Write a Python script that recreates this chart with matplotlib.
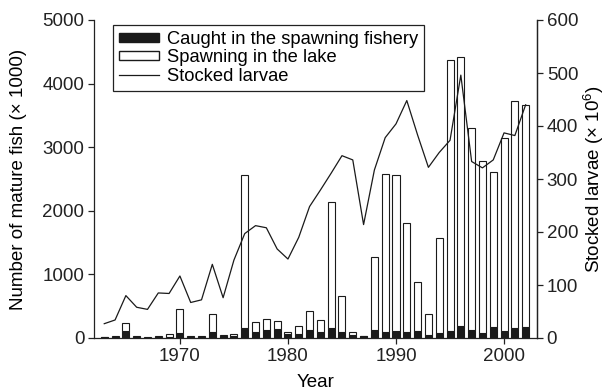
import matplotlib
matplotlib.use("Agg")
import matplotlib.pyplot as plt
from matplotlib.patches import Patch
from matplotlib.lines import Line2D

plt.rcParams['font.family'] = ['Liberation Sans', 'DejaVu Sans']
plt.rcParams['mathtext.fontset'] = 'custom'
plt.rcParams['mathtext.rm'] = 'Liberation Sans'
plt.rcParams['mathtext.it'] = 'Liberation Sans'

years = list(range(1963, 2003))
caught = [10, 12, 110, 20, 5, 8, 15, 84, 18, 10,
          100, 26, 30, 157, 100, 126, 141, 58, 68, 126,
          94, 157, 94, 47, 25, 126, 94, 115, 100, 110,
          42, 84, 115, 183, 126, 79, 168, 115, 152, 168]
spawning = [5, 18, 131, 10, 3, 17, 43, 367, 12, 15,
            272, 16, 28, 2406, 152, 168, 132, 36, 115, 293,
            184, 1986, 561, 42, 12, 1142, 2480, 2448, 1703, 776,
            335, 1483, 4256, 4230, 3181, 2704, 2437, 3025, 3579, 3495]
larvae = [27, 34, 80, 58, 54, 85, 84, 117, 67, 72,
          139, 76, 147, 197, 212, 208, 168, 149, 190, 248,
          279, 311, 344, 336, 214, 317, 378, 404, 448, 383,
          322, 350, 373, 496, 333, 321, 336, 387, 382, 440]

fs = 13.5
fig = plt.figure(figsize=(6.09, 3.92), dpi=100)
ax = fig.add_axes([94/609, 1-338/392, (537-94)/609, (338-20)/392])
ax2 = ax.twinx()

w = 0.65
ax.bar(years, caught, width=w, color='#1a1a1a', edgecolor='#1a1a1a', linewidth=0.8)
ax.bar(years, spawning, width=w, bottom=caught, color='white', edgecolor='#1a1a1a', linewidth=0.8)
ax2.plot(years, larvae, color='#1a1a1a', linewidth=0.9)

ax.set_xlim(1962.05, 2003.05)
ax.set_ylim(0, 5000)
ax2.set_ylim(0, 600)
ax.set_xticks([1970, 1980, 1990, 2000])
ax.set_yticks([0, 1000, 2000, 3000, 4000, 5000])
ax2.set_yticks([0, 100, 200, 300, 400, 500, 600])

for a in (ax, ax2):
    a.spines['top'].set_visible(False)
    for s in a.spines.values():
        s.set_color('#222222')
        s.set_linewidth(0.9)
    a.tick_params(direction='out', length=4, width=0.9, labelsize=fs, colors='#222222', pad=3)
ax2.spines['left'].set_visible(False)
ax2.spines['bottom'].set_visible(False)

ax.set_xlabel('Year', fontsize=fs, labelpad=7)
ax.set_ylabel('Number of mature fish (× 1000)', fontsize=fs, labelpad=11)
ax2.set_ylabel(r'Stocked larvae (× 10$^{6}$)', fontsize=fs, labelpad=3)

handles = [Patch(facecolor='#1a1a1a', edgecolor='#1a1a1a'),
           Patch(facecolor='white', edgecolor='#1a1a1a'),
           Line2D([0], [0], color='#1a1a1a', linewidth=0.9)]
labels = ['Caught in the spawning fishery', 'Spawning in the lake', 'Stocked larvae']
leg = ax2.legend(handles, labels, loc='upper left', bbox_to_anchor=(113/609, 1-25/392),
                 bbox_transform=fig.transFigure, fontsize=13.2, frameon=True, fancybox=False,
                 edgecolor='#222222', framealpha=1, borderpad=0.32, labelspacing=0.08,
                 handlelength=2.2, handleheight=0.4, handletextpad=0.4, borderaxespad=0)
leg.get_frame().set_linewidth(0.9)

fig.savefig('out.png', dpi=100)
